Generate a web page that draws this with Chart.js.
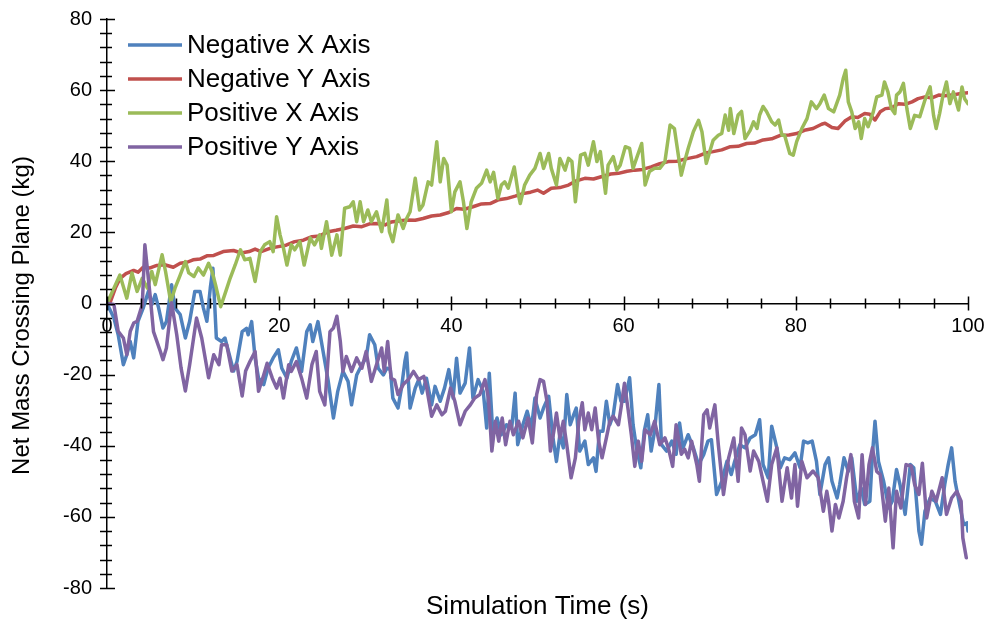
<!DOCTYPE html>
<html>
<head>
<meta charset="utf-8">
<script src="https://cdn.jsdelivr.net/npm/chart.js@4.4.1/dist/chart.umd.min.js"></script>
<style>
  html, body { margin: 0; padding: 0; background: #fff; }
  #wrap { width: 993px; height: 624px; position: relative; }
</style>
</head>
<body>
<div id="wrap"><canvas id="massChart"></canvas></div>
<script>
// [time (s), net mass (kg)] samples for each plane
const negativeX = [
  [0,0],[0.8,-4.1],[1.3,-8.8],[1.9,-17.2],[2.3,-14.4],[2.7,-10.7],[3.1,-15.3],[3.6,-5.0],[4.2,-1.3],[4.8,3.4],
  [5.2,-0.3],[5.6,2.5],[6.0,-1.3],[6.5,-6.9],[6.9,-5.1],[7.5,5.3],[7.9,-1.3],[8.5,-3.1],[9.1,-9.7],[9.6,-5.0],
  [10.2,3.4],[10.8,3.4],[11.2,-1.3],[11.6,-5.0],[12.0,4.4],[12.3,9.9],[12.7,-9.7],[13.3,-10.7],[13.7,-9.7],[14.1,-13.4],
  [14.7,-19.0],[15.1,-16.3],[15.7,-7.9],[16.2,-7.0],[16.4,-8.8],[16.8,-5.1],[17.2,-15.3],[17.6,-21.0],[18.2,-22.8],[18.7,-18.2],
  [19.3,-15.3],[19.9,-13.0],[20.3,-18.2],[20.9,-21.0],[21.4,-16.3],[22.0,-12.5],[22.6,-19.1],[23.2,-7.9],[23.6,-6.0],[23.9,-10.7],
  [24.5,-5.1],[25.1,-13.5],[25.7,-21.9],[26.3,-32.2],[26.8,-24.7],[27.4,-19.1],[28.0,-21.9],[28.4,-28.5],[29.0,-20.1],[29.6,-17.2],
  [30.1,-15.3],[30.5,-8.8],[31.1,-11.6],[31.5,-18.2],[32.1,-20.1],[32.5,-18.2],[32.9,-18.5],[33.2,-26.6],[33.8,-29.4],[34.2,-23.8],
  [34.6,-16.3],[34.8,-13.9],[35.2,-29.4],[35.8,-23.8],[36.2,-21.4],[36.6,-25.2],[37.1,-21.0],[37.7,-28.5],[38.1,-23.3],[38.7,-27.5],
  [39.2,-23.8],[39.7,-18.6],[40.2,-26.6],[40.6,-15.4],[41.0,-25.2],[41.6,-22.4],[42.1,-12.5],[42.5,-26.6],[43.1,-21.4],[43.7,-24.7],
  [44.1,-35.0],[44.4,-19.6],[44.8,-36.0],[45.3,-32.2],[45.8,-36.9],[46.4,-34.1],[47.0,-35.0],[47.4,-25.2],[47.7,-39.7],[48.3,-34.1],
  [48.8,-30.3],[49.3,-35.0],[49.7,-26.6],[50.3,-32.2],[50.7,-29.4],[51.3,-26.1],[51.8,-37.8],[52.2,-44.4],[52.6,-36.9],[53.0,-40.6],
  [53.4,-25.6],[53.8,-34.1],[54.2,-31.3],[54.5,-29.4],[54.9,-41.5],[55.5,-38.7],[55.9,-45.3],[56.5,-43.4],[56.8,-47.2],[57.2,-35.9],
  [57.6,-35.9],[58.0,-27.5],[58.4,-34.1],[58.8,-31.3],[59.3,-22.8],[59.7,-27.5],[60.1,-27.5],[60.7,-20.9],[61.1,-34.1],[61.5,-40.6],
  [62.0,-46.2],[62.4,-35.9],[62.8,-31.3],[63.2,-41.5],[63.6,-35.9],[64.1,-22.8],[64.4,-39.7],[65.0,-41.5],[65.6,-38.7],[66.1,-42.4],
  [66.5,-33.6],[66.9,-40.6],[67.5,-36.9],[68.1,-40.6],[68.7,-45.3],[69.3,-42.5],[69.8,-38.7],[70.2,-38.3],[70.8,-53.7],[71.4,-50.0],
  [72.0,-44.4],[72.5,-48.1],[72.9,-44.4],[73.5,-39.7],[74.1,-40.6],[74.7,-37.8],[75.3,-36.9],[75.8,-32.7],[76.2,-45.3],[76.8,-49.0],
  [77.2,-34.5],[77.8,-40.6],[78.2,-46.2],[78.7,-43.4],[79.3,-43.9],[79.9,-42.0],[80.5,-46.2],[80.9,-38.7],[81.4,-39.2],[81.9,-38.7],
  [82.4,-44.4],[82.8,-53.7],[83.4,-45.3],[83.8,-43.4],[84.2,-50.0],[84.8,-54.7],[85.1,-50.9],[85.6,-43.4],[86.1,-47.2],[86.5,-43.4],
  [87.1,-55.6],[87.6,-51.9],[88.0,-56.5],[88.6,-55.6],[88.9,-42.5],[89.2,-33.1],[89.6,-44.4],[90.2,-50.0],[90.8,-57.5],[91.2,-55.6],
  [91.7,-46.7],[92.1,-50.9],[92.7,-59.3],[93.3,-45.3],[93.7,-46.2],[94.3,-64.0],[94.6,-67.7],[95.0,-58.4],[95.6,-54.7],[96.2,-55.6],
  [96.8,-59.3],[97.3,-50.9],[97.7,-45.3],[98.1,-40.6],[98.5,-50.0],[99.1,-57.5],[99.5,-62.2],[99.9,-61.7],[100.0,-64.0]
];

const negativeY = [
  [0,0],[0.4,0.5],[1.0,4.5],[1.5,7.0],[2.2,8.4],[3.1,9.3],[3.6,8.8],[4.2,10.2],[5.0,10.0],[5.8,10.7],
  [6.7,10.9],[7.7,10.2],[8.5,11.3],[9.3,11.6],[10.0,12.3],[10.8,12.5],[11.6,13.4],[12.4,13.5],[13.5,14.6],[14.7,14.9],
  [15.6,14.2],[16.5,14.6],[17.2,15.3],[17.9,14.6],[19.0,15.6],[19.9,16.0],[20.8,16.4],[21.8,17.4],[22.8,17.8],[23.8,18.8],
  [24.7,19.0],[25.7,20.2],[26.6,20.6],[27.6,21.1],[28.6,21.8],[29.6,21.6],[30.5,22.4],[31.5,22.5],[32.3,22.1],[33.0,22.9],
  [33.9,23.2],[34.8,23.5],[35.8,23.4],[36.7,23.9],[37.7,24.6],[38.7,24.9],[39.7,25.6],[40.6,26.7],[41.5,26.5],[42.5,27.2],
  [43.5,28.0],[44.5,28.1],[45.5,29.2],[46.4,29.5],[47.4,30.2],[48.3,30.9],[49.2,31.3],[50.0,31.9],[50.7,31.0],[51.6,32.4],
  [52.6,32.6],[53.6,33.3],[54.5,34.5],[55.5,35.2],[56.5,35.0],[57.5,35.7],[58.5,36.4],[59.4,36.6],[60.4,37.2],[61.3,37.5],
  [62.2,37.7],[63.2,38.4],[64.2,39.3],[65.2,39.9],[66.2,40.0],[67.1,40.6],[68.5,41.3],[69.5,42.3],[70.4,42.7],[71.4,43.2],
  [72.4,44.1],[73.3,44.2],[74.3,45.0],[75.2,45.1],[76.2,46.0],[77.2,46.3],[78.2,47.3],[79.2,47.4],[80.1,47.8],[81.0,48.7],
  [82.0,49.2],[83.0,50.4],[83.4,50.7],[84.2,49.5],[84.9,49.2],[85.7,51.3],[86.5,52.5],[87.2,52.3],[88.0,53.4],[88.6,53.2],
  [89.2,51.6],[89.8,53.9],[90.4,54.8],[91.1,55.0],[91.9,56.2],[92.7,56.0],[93.5,56.7],[94.2,57.6],[95.0,58.1],[95.8,57.8],
  [96.6,58.6],[97.3,58.4],[98.1,58.6],[99.0,59.0],[100.0,59.3]
];

const positiveX = [
  [0,0],[1.5,8.0],[2.3,1.5],[2.9,8.6],[3.5,3.4],[4.1,7.1],[4.7,4.3],[5.2,9.0],[5.6,5.3],[6.4,13.7],
  [6.8,9.0],[7.4,0.5],[7.9,4.3],[8.5,8.0],[9.1,11.8],[9.5,8.6],[10.1,7.6],[10.6,10.0],[11.2,8.0],[11.8,11.3],
  [12.2,9.0],[12.6,5.3],[13.2,-0.9],[13.8,3.4],[14.3,7.1],[14.9,10.9],[15.5,15.1],[16.0,12.3],[16.6,12.7],[17.2,6.2],
  [17.8,14.6],[18.3,16.5],[18.9,17.4],[19.3,14.6],[19.7,24.4],[20.1,19.3],[20.5,15.5],[20.9,10.8],[21.4,16.5],[21.8,15.1],
  [22.4,17.4],[22.9,10.8],[23.6,18.4],[24.1,16.5],[24.7,19.3],[24.9,15.5],[25.5,23.0],[26.1,13.6],[26.7,19.3],[27.1,13.6],
  [27.6,26.8],[28.2,27.2],[28.6,28.6],[29.0,23.0],[29.4,28.6],[29.8,23.0],[30.3,26.3],[30.7,23.0],[31.3,25.8],[31.9,20.2],
  [32.5,29.1],[32.8,20.2],[33.2,17.4],[33.8,24.9],[34.4,21.1],[34.8,23.9],[35.2,25.8],[35.8,35.2],[36.3,26.3],[36.7,27.7],
  [37.3,34.2],[37.7,33.3],[38.3,45.5],[38.7,34.2],[39.1,40.8],[39.5,38.9],[40.0,25.8],[40.4,31.4],[41.0,34.2],[41.4,28.6],
  [41.8,21.1],[42.3,28.6],[42.9,32.4],[43.5,33.8],[44.1,37.5],[44.5,34.2],[44.9,36.9],[45.4,29.5],[45.8,33.3],[46.2,34.2],
  [46.6,32.4],[47.3,38.4],[47.8,30.4],[48.0,28.1],[48.5,33.3],[49.1,36.1],[49.7,38.0],[50.3,42.2],[50.7,38.0],[51.3,42.2],
  [51.6,38.0],[52.2,33.3],[52.6,40.8],[53.2,37.5],[53.6,40.8],[54.0,39.9],[54.4,28.6],[55.0,41.7],[55.5,42.2],[55.9,38.9],
  [56.5,45.5],[56.9,39.9],[57.3,42.7],[57.9,31.0],[58.2,38.9],[58.8,41.3],[59.2,37.5],[59.6,38.9],[60.2,44.1],[60.7,43.6],
  [61.1,38.0],[61.5,40.8],[62.1,45.0],[62.5,33.3],[63.0,37.1],[63.6,38.0],[64.2,38.0],[64.8,39.9],[65.4,50.2],[65.9,49.2],
  [66.7,36.1],[67.1,40.0],[67.5,43.6],[68.1,48.3],[68.7,51.5],[69.1,48.3],[69.6,39.4],[70.0,42.7],[70.4,45.9],[71.0,47.3],
  [71.4,47.8],[71.8,53.0],[72.2,48.7],[72.4,54.8],[72.8,47.8],[73.3,53.0],[73.7,54.0],[74.1,46.4],[74.7,48.7],[75.1,51.1],
  [75.5,49.2],[75.8,53.0],[76.2,55.4],[76.6,54.0],[77.2,51.1],[77.6,50.2],[78.0,51.6],[78.4,47.3],[78.7,47.3],[79.3,42.2],
  [79.7,41.7],[80.1,45.5],[80.7,49.2],[81.3,52.0],[81.8,56.7],[82.4,54.8],[82.8,56.2],[83.3,58.6],[83.8,54.8],[84.4,53.9],
  [85.1,58.6],[85.5,63.2],[85.8,65.6],[86.1,56.7],[86.5,53.9],[86.9,49.2],[87.3,51.1],[87.6,46.4],[88.0,52.0],[88.4,49.7],
  [89.0,53.9],[89.4,58.1],[90.0,58.6],[90.3,62.3],[90.7,59.5],[91.1,54.8],[91.5,53.4],[91.7,58.6],[92.1,59.5],[92.5,61.9],
  [92.9,54.8],[93.3,49.2],[93.8,52.9],[94.4,52.5],[95.0,57.2],[95.6,60.9],[96.0,52.9],[96.3,49.2],[96.7,53.4],[97.1,58.6],
  [97.5,62.3],[97.9,56.2],[98.3,59.5],[98.9,54.4],[99.3,60.9],[99.6,57.6],[100.0,56.2]
];

const positiveY = [
  [0,0],[0.8,-0.3],[1.3,-7.8],[1.9,-9.7],[2.3,-14.4],[2.7,-7.8],[3.1,-5.5],[3.5,-5.0],[4.1,-0.3],[4.4,16.5],
  [5.0,2.4],[5.4,-7.9],[6.2,-13.5],[6.5,-15.8],[6.9,-12.5],[7.5,0.2],[8.1,-8.8],[8.6,-18.1],[9.1,-24.6],[9.6,-17.2],
  [10.4,-4.1],[11.0,-9.7],[11.8,-20.9],[12.4,-14.4],[13.0,-17.2],[13.3,-11.6],[13.9,-11.6],[14.5,-19.0],[15.1,-17.2],[15.7,-26.0],
  [16.1,-19.0],[16.6,-16.3],[17.2,-13.5],[17.6,-24.7],[18.2,-20.1],[18.6,-16.8],[19.2,-21.0],[19.7,-23.8],[20.1,-21.0],[20.5,-26.6],
  [21.1,-17.2],[21.4,-19.1],[22.0,-16.3],[22.6,-21.0],[23.2,-26.6],[23.8,-17.2],[24.3,-13.5],[24.7,-24.7],[25.3,-28.5],[25.9,-7.9],
  [26.3,-6.9],[26.7,-3.6],[27.1,-10.7],[27.4,-19.1],[27.8,-14.9],[28.4,-19.1],[29.0,-15.3],[29.6,-18.2],[30.1,-13.5],[30.7,-21.9],
  [31.3,-17.2],[31.9,-12.5],[32.2,-19.1],[32.6,-10.7],[33.0,-21.0],[33.4,-21.5],[33.8,-25.6],[34.4,-22.8],[35.0,-21.4],[35.6,-19.1],
  [36.2,-21.4],[36.8,-20.5],[37.1,-23.3],[37.7,-31.7],[38.3,-28.5],[38.9,-31.3],[39.3,-30.3],[39.9,-23.8],[40.4,-27.5],[41.0,-34.1],
  [41.6,-30.3],[42.2,-28.5],[42.7,-26.6],[43.3,-25.6],[43.9,-21.4],[44.3,-26.6],[44.7,-41.5],[45.1,-33.1],[45.5,-38.7],[45.9,-32.2],
  [46.3,-39.7],[46.8,-33.1],[47.2,-36.9],[47.8,-33.1],[48.3,-37.8],[48.9,-32.2],[49.4,-39.2],[49.9,-25.6],[50.3,-21.4],[50.7,-21.9],
  [51.1,-27.5],[51.5,-41.5],[51.9,-35.9],[52.2,-30.8],[52.6,-37.8],[53.0,-33.1],[53.4,-39.7],[53.9,-49.0],[54.4,-43.4],[54.8,-33.1],
  [55.2,-27.9],[55.5,-35.5],[55.9,-30.8],[56.3,-35.5],[56.7,-29.4],[57.1,-38.7],[57.5,-43.4],[58.0,-37.8],[58.4,-33.1],[58.8,-31.7],
  [59.4,-34.1],[59.7,-29.4],[60.1,-22.4],[60.5,-29.4],[60.9,-36.9],[61.3,-45.8],[61.7,-38.7],[62.1,-44.4],[62.5,-35.5],[63.1,-36.9],
  [63.6,-33.1],[64.2,-39.7],[64.8,-37.8],[65.2,-40.6],[65.7,-45.8],[66.1,-34.1],[66.7,-42.4],[67.1,-41.0],[67.5,-43.4],[67.9,-38.7],
  [68.5,-45.3],[68.8,-50.0],[69.3,-31.3],[69.7,-29.9],[70.0,-35.0],[70.6,-28.5],[71.0,-39.7],[71.6,-53.7],[72.2,-43.4],[72.8,-37.8],
  [73.3,-50.0],[73.7,-35.0],[74.1,-36.9],[74.7,-47.1],[75.1,-41.5],[75.7,-44.4],[76.2,-50.0],[76.7,-55.6],[77.2,-45.3],[77.8,-40.6],
  [78.4,-55.6],[79.0,-46.2],[79.5,-54.7],[79.9,-45.3],[80.2,-57.0],[80.7,-44.4],[81.3,-49.0],[82.0,-47.1],[82.6,-49.0],[83.2,-58.4],
  [83.6,-52.8],[83.8,-55.6],[84.2,-64.0],[84.6,-56.5],[85.0,-60.3],[85.5,-55.6],[85.9,-49.0],[86.4,-42.5],[86.8,-55.6],[87.3,-60.3],
  [87.7,-42.5],[88.1,-56.5],[88.5,-45.3],[88.9,-40.6],[89.4,-47.2],[89.8,-48.1],[90.4,-61.2],[90.8,-51.9],[91.3,-68.7],[91.7,-52.8],
  [92.2,-57.5],[92.8,-45.3],[93.4,-45.7],[93.8,-50.9],[94.3,-53.7],[94.7,-44.9],[95.2,-60.3],[95.8,-52.8],[96.3,-55.6],[97.0,-49.0],
  [97.5,-59.3],[98.1,-54.7],[98.7,-52.8],[99.2,-55.6],[99.4,-65.9],[99.8,-71.5]
];

const seriesNames = ['Negative X Axis', 'Negative Y Axis', 'Positive X Axis', 'Positive Y Axis'];
const seriesColors = ['#4F81BD', '#C0504D', '#9BBB59', '#8064A2'];
const xTitle = 'Simulation Time (s)';
const yTitle = 'Net Mass Crossing Plane (kg)';

const FONT = '"Liberation Sans", Arial, sans-serif';

const toPoints = (rows) => rows.map(([t, m]) => ({ x: t, y: m }));

// axis lines cross at zero, tick marks straddle both axes
const tickMarks = {
  id: 'tickMarks',
  afterDraw(chart) {
    const { ctx, scales: { x, y } } = chart;
    const y0 = y.getPixelForValue(0);
    const x0 = x.getPixelForValue(0);
    ctx.save();
    ctx.strokeStyle = '#000';
    ctx.lineWidth = 1.5;
    ctx.beginPath();
    for (let v = 0; v <= 100; v += 4) {
      const px = Math.round(x.getPixelForValue(v)) + 0.5;
      const len = v % 20 === 0 ? 7 : 5;
      ctx.moveTo(px, y0 - len);
      ctx.lineTo(px, y0 + len);
    }
    for (let v = -80; v <= 80; v += 4) {
      const py = Math.round(y.getPixelForValue(v)) + 0.5;
      const major = v % 20 === 0;
      ctx.moveTo(x0 - 7, py);
      ctx.lineTo(x0 + (major ? 8 : 5), py);
    }
    ctx.stroke();
    ctx.restore();
  }
};

// axis titles and the legend box inside the plot
const annotations = {
  id: 'annotations',
  afterDraw(chart) {
    const { ctx, chartArea } = chart;
    ctx.save();
    ctx.fillStyle = '#000';
    ctx.textAlign = 'center';
    ctx.textBaseline = 'middle';
    ctx.font = '26px ' + FONT;
    ctx.fillText(xTitle, (chartArea.left + chartArea.right) / 2, chartArea.bottom + 19);

    ctx.font = '24px ' + FONT;
    ctx.translate(22, (chartArea.top + chartArea.bottom) / 2 + 12);
    ctx.rotate(-Math.PI / 2);
    ctx.fillText(yTitle, 0, 0);
    ctx.restore();

    ctx.save();
    ctx.font = '26px ' + FONT;
    ctx.textAlign = 'left';
    ctx.textBaseline = 'middle';
    ctx.lineWidth = 3.5;
    chart.data.datasets.forEach((ds, i) => {
      const ly = chartArea.top + 26 + i * 34;
      ctx.strokeStyle = ds.borderColor;
      ctx.beginPath();
      ctx.moveTo(chartArea.left + 21, ly);
      ctx.lineTo(chartArea.left + 75, ly);
      ctx.stroke();
      ctx.fillStyle = '#000';
      ctx.fillText(ds.label, chartArea.left + 80, ly + 1);
    });
    ctx.restore();
  }
};

const datasets = [negativeX, negativeY, positiveX, positiveY].map((rows, i) => ({
  label: seriesNames[i],
  data: toPoints(rows),
  borderColor: seriesColors[i],
  backgroundColor: seriesColors[i],
  borderWidth: 3.5,
  pointRadius: 0,
  tension: 0,
  borderJoinStyle: 'round',
  borderCapStyle: 'round',
  order: 4 - i
}));

new Chart(document.getElementById('massChart'), {
  type: 'line',
  data: { datasets },
  options: {
    responsive: true,
    maintainAspectRatio: false,
    animation: false,
    layout: { padding: { left: 0, top: 18, right: 25, bottom: 36 } },
    plugins: {
      legend: { display: false },
      tooltip: { enabled: false }
    },
    scales: {
      x: {
        type: 'linear',
        position: { y: 0 },
        min: 0,
        max: 100,
        afterBuildTicks: (scale) => {
          scale.ticks = [];
          for (let v = 0; v <= 100; v += 20) scale.ticks.push({ value: v });
        },
        ticks: {
          autoSkip: false,
          maxRotation: 0,
          padding: 3,
          color: '#000',
          font: { family: FONT, size: 20 }
        },
        grid: { display: false, drawTicks: true, tickLength: 8 },
        border: { display: true, color: '#000', width: 1.5 }
      },
      y: {
        type: 'linear',
        min: -80,
        max: 80,
        afterBuildTicks: (scale) => {
          scale.ticks = [];
          for (let v = -80; v <= 80; v += 20) scale.ticks.push({ value: v });
        },
        afterFit: (scale) => { scale.width = 107; },
        ticks: {
          autoSkip: false,
          padding: 7,
          color: '#000',
          font: { family: FONT, size: 20 }
        },
        grid: { display: false, drawTicks: true, tickLength: 8 },
        border: { display: true, color: '#000', width: 1.5 }
      }
    }
  },
  plugins: [tickMarks, annotations]
});
</script>
</body>
</html>
